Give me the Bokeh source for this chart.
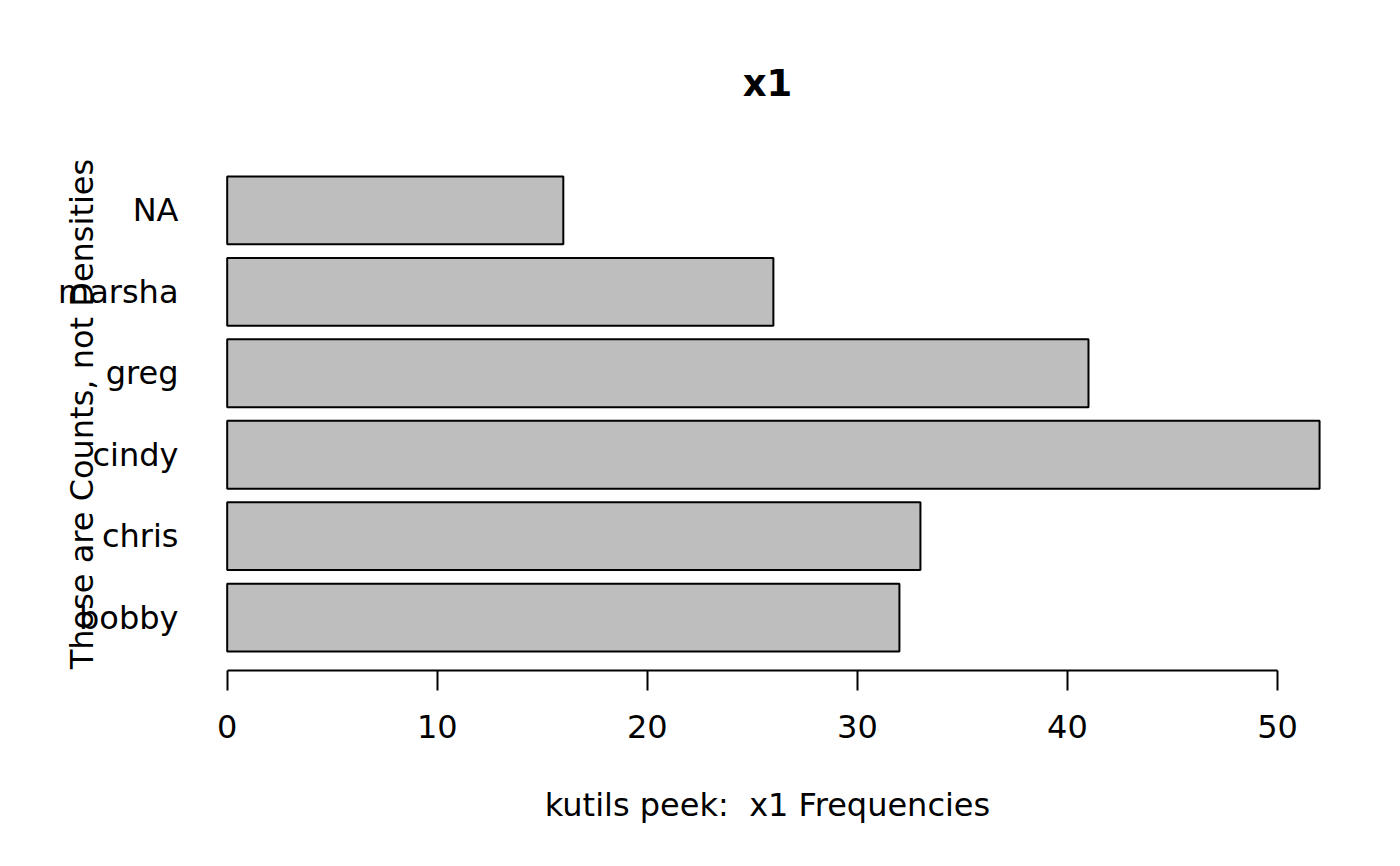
from bokeh.plotting import figure
from bokeh.models import FixedTicker, Range1d
from bokeh.embed import file_html
from bokeh.resources import INLINE

categories = ["bobby", "chris", "cindy", "greg", "marsha", "NA"]
counts = [32, 33, 52, 41, 26, 16]
x_ticks = [0, 10, 20, 30, 40, 50]
title_text = "x1"
x_label = "kutils peek:\u00a0 x1 Frequencies"
y_label = "Those are Counts, not Densities"

FONT = "DejaVu Sans"
FS = "32px"
bar_w = 1.0
space = 0.2
centers = [round(space + bar_w / 2 + i * (bar_w + space), 4) for i in range(len(categories))]
lo = space
hi = len(categories) * (bar_w + space)
ypad = 0.04 * (hi - lo)
ymin, ymax = lo - ypad, hi + ypad
xmax = max(counts)
xpad = 0.04 * xmax

p = figure(width=1384, height=850, output_backend="svg", toolbar_location=None,
           x_range=Range1d(-xpad, 53.52), y_range=Range1d(ymin, ymax),
           min_border_left=183, min_border_right=33, min_border_top=157, min_border_bottom=180)
p.outline_line_color = None
p.xgrid.grid_line_color = None
p.ygrid.grid_line_color = None
p.background_fill_color = "white"
p.border_fill_color = "white"

p.hbar(y=centers, right=counts, left=0, height=bar_w,
       fill_color="#BEBEBE", line_color="black", line_width=2)

# x axis
xa = p.xaxis[0]
xa.ticker = FixedTicker(ticks=x_ticks)
xa.bounds = (x_ticks[0], x_ticks[-1])
xa.axis_line_width = 2
xa.axis_line_color = "black"
xa.major_tick_line_width = 2
xa.major_tick_out = 20
xa.major_tick_in = 0
xa.minor_tick_line_color = None
xa.major_label_text_font = FONT
xa.major_label_text_font_size = FS
xa.major_label_text_color = "black"
xa.major_label_standoff = 24
xa.axis_label = x_label
xa.axis_label_text_font = FONT
xa.axis_label_text_font_size = FS
xa.axis_label_text_font_style = "normal"
xa.axis_label_text_color = "black"
xa.axis_label_standoff = 45

# y axis (category names) with label overlapping them, as in the original
ya = p.yaxis[0]
ya.ticker = FixedTicker(ticks=centers)
ya.major_label_overrides = {c: n for c, n in zip(centers, categories)}
ya.axis_line_color = None
ya.major_tick_line_color = None
ya.minor_tick_line_color = None
ya.major_tick_out = 0
ya.major_tick_in = 0
ya.major_label_standoff = 5
ya.major_label_text_font = FONT
ya.major_label_text_font_size = FS
ya.major_label_text_color = "black"
ya.axis_label = y_label
ya.axis_label_text_font = FONT
ya.axis_label_text_font_size = FS
ya.axis_label_text_font_style = "normal"
ya.axis_label_text_color = "black"
ya.axis_label_standoff = -46

# title
p.title.text = title_text
p.title.align = "center"
p.title.text_font = FONT
p.title.text_font_size = "37px"
p.title.text_font_style = "bold"
p.title.text_color = "black"
p.title.standoff = 106

open("out.html", "w").write(file_html(p, INLINE))
